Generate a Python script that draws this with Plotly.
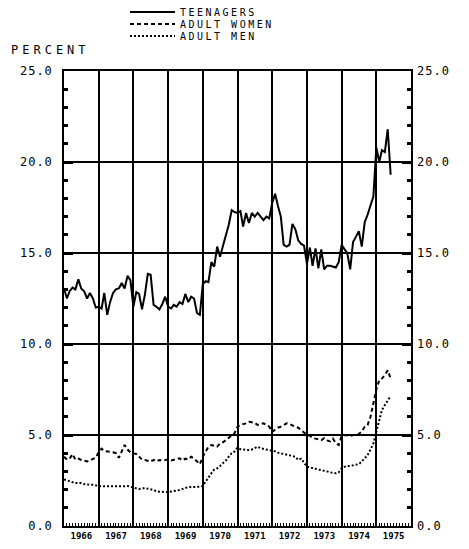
import pandas as pd
import plotly.graph_objects as go

# monthly unemployment rates, Jan 1966 - Jun 1975 (percent)
teenagers = [
    13.05, 12.5, 12.9, 13.1, 13.0, 13.55, 13.05, 12.9, 12.5, 12.8, 12.5, 12.0,
    12.05, 11.95, 12.8, 11.6, 12.3, 12.8, 13.0, 13.05, 13.35, 13.05, 13.75, 13.5,
    12.05, 12.85, 12.75, 11.9, 12.7, 13.85, 13.8, 12.15, 12.05, 11.9, 12.2, 12.6,
    12.05, 11.95, 12.15, 12.05, 12.3, 12.2, 12.75, 12.3, 12.6, 12.5, 11.7, 11.6,
    13.3, 13.45, 13.4, 14.5, 14.25, 15.35, 14.8, 15.35, 16.0, 16.55, 17.35, 17.25,
    17.2, 17.3, 16.45, 17.2, 16.65, 17.2, 17.0, 17.2, 17.0, 16.8, 17.0, 16.9,
    17.75, 18.25, 17.6, 17.0, 15.45, 15.35, 15.45, 16.6, 16.3, 15.7, 15.5, 15.4,
    14.4, 15.3, 14.3, 15.25, 14.15, 15.2, 14.1, 14.3, 14.3, 14.25, 14.2, 14.5,
    15.45, 15.2, 15.0, 14.1, 15.6, 15.9, 16.2, 15.35, 16.7, 17.1, 17.6, 18.1,
    20.8, 20.0, 20.65, 20.55, 21.8, 19.3,
]
adult_women = [
    3.8, 3.65, 3.7, 3.95, 3.65, 3.7, 3.63, 3.6, 3.55, 3.6, 3.66, 3.75,
    4.05, 4.25, 4.12, 4.08, 4.08, 4.05, 4.0, 3.75, 4.15, 4.45, 4.2, 4.05,
    3.99, 3.96, 3.81, 3.65, 3.63, 3.58, 3.54, 3.63, 3.55, 3.63, 3.6, 3.62,
    3.66, 3.6, 3.63, 3.65, 3.72, 3.6, 3.7, 3.66, 3.81, 3.7, 3.55, 3.4,
    3.81, 4.08, 4.36, 4.45, 4.4, 4.36, 4.54, 4.6, 4.72, 4.85, 4.95, 5.1,
    5.46, 5.55, 5.6, 5.64, 5.73, 5.7, 5.67, 5.55, 5.6, 5.64, 5.55, 5.46,
    5.18, 5.3, 5.4, 5.46, 5.55, 5.64, 5.6, 5.55, 5.46, 5.4, 5.27, 5.1,
    5.0, 4.95, 4.85, 4.8, 4.75, 4.72, 4.82, 4.7, 4.65, 4.8, 4.55, 4.45,
    4.95, 5.0, 4.98, 4.95, 5.0, 5.0, 5.05, 5.2, 5.45, 5.55, 6.0, 6.75,
    7.5, 8.02, 8.1, 8.3, 8.55, 8.1,
]
adult_men = [
    2.56, 2.5, 2.45, 2.4, 2.36, 2.36, 2.36, 2.3, 2.27, 2.27, 2.27, 2.22,
    2.2, 2.18, 2.18, 2.18, 2.16, 2.14, 2.14, 2.14, 2.14, 2.18, 2.2, 2.15,
    2.09, 2.05, 2.03, 2.05, 2.09, 2.05, 2.03, 1.98, 1.9, 1.89, 1.85, 1.83,
    1.86, 1.89, 1.9, 1.95, 1.98, 2.03, 2.1, 2.14, 2.14, 2.14, 2.14, 2.16,
    2.2, 2.45, 2.7, 2.9, 3.1, 3.17, 3.3, 3.44, 3.6, 3.81, 4.0, 4.1,
    4.3, 4.22, 4.2, 4.17, 4.17, 4.2, 4.27, 4.36, 4.27, 4.22, 4.2, 4.17,
    4.14, 4.1, 4.03, 4.0, 3.96, 3.93, 3.9, 3.85, 3.8, 3.63, 3.7, 3.45,
    3.26, 3.22, 3.2, 3.15, 3.1, 3.08, 3.04, 3.0, 2.95, 2.93, 2.9, 2.95,
    3.17, 3.25, 3.3, 3.3, 3.33, 3.35, 3.4, 3.54, 3.75, 3.9, 4.2, 4.54,
    5.18, 5.82, 6.37, 6.65, 6.92, 7.14,
]
months = pd.date_range("1966-01-01", periods=len(teenagers), freq="MS")

y_ticks = [0, 5, 10, 15, 20, 25]
y_labels = ["0.0", "5.0", "10.0", "15.0", "20.0", "25.0"]

MONO = "DejaVu Sans Mono"


def spaced(s, px):
    return f'<span style="letter-spacing:{px}px">{s}</span>'


fig = go.Figure()
fig.add_trace(go.Scatter(x=months, y=teenagers, mode="lines", name=spaced("TEENAGERS", 2.5),
                         legend="legend", line=dict(color="black", width=2)))
fig.add_trace(go.Scatter(x=months, y=adult_women, mode="lines", name=spaced("ADULT WOMEN", 2.5),
                         legend="legend2", line=dict(color="black", width=2, dash="4px,3px")))
fig.add_trace(go.Scatter(x=months, y=adult_men, mode="lines", name=spaced("ADULT MEN", 2.5),
                         legend="legend3", line=dict(color="black", width=2, dash="2px,2px")))
# invisible trace to carry the right-hand axis
fig.add_trace(go.Scatter(x=months[:1], y=teenagers[:1], yaxis="y2", mode="lines",
                         showlegend=False, hoverinfo="skip", line=dict(width=0)))

# one legend per row so rows can sit as tightly as in the original
legend_style = dict(xref="container", yref="container", x=117 / 469,
                    xanchor="left", yanchor="middle", bgcolor="rgba(0,0,0,0)",
                    font=dict(family=MONO, size=10), itemwidth=45)

# page body adds ~8px offset, so margins are pulled in by that much
fig.update_layout(
    width=469, height=549,
    margin=dict(l=56, r=66, t=63, b=31, autoexpand=False),
    paper_bgcolor="white", plot_bgcolor="white",
    font=dict(family=MONO, size=12, color="black"),
    showlegend=True,
    legend=dict(legend_style, y=1 - 4 / 549),
    legend2=dict(legend_style, y=1 - 16 / 549),
    legend3=dict(legend_style, y=1 - 28 / 549),
    xaxis=dict(
        type="date", range=["1966-01-01", "1976-01-01"], automargin=False,
        tick0="1966-01-01", dtick="M12", tickformat="%Y", ticklabelmode="period",
        tickangle=0,
        showgrid=True, gridcolor="black", gridwidth=1.5,
        showline=True, linecolor="black", linewidth=1.5, mirror=True,
        ticks="", tickfont=dict(family=MONO, size=9, weight="bold"),
        minor=dict(dtick="M1", ticks="inside", ticklen=3, tickcolor="black", showgrid=False),
        zeroline=False,
    ),
    yaxis=dict(
        range=[0, 25], automargin=False,
        tickvals=y_ticks, ticktext=[spaced(t, 1) for t in y_labels],
        showgrid=True, gridcolor="black", gridwidth=1.5,
        showline=True, linecolor="black", linewidth=1.5, mirror=True,
        ticks="inside", ticklen=9, tickwidth=3, tickcolor="black",
        tickfont=dict(family=MONO, size=12), ticklabelstandoff=7,
        minor=dict(dtick=1, ticks="inside", ticklen=4, tickcolor="black", showgrid=False),
        zeroline=False,
    ),
    yaxis2=dict(
        range=[0, 25], overlaying="y", side="right", matches="y", automargin=False,
        tickvals=y_ticks, ticktext=[spaced(t, 1) for t in y_labels],
        showgrid=False, ticks="inside", ticklen=9, tickwidth=3, tickcolor="black",
        tickfont=dict(family=MONO, size=12), ticklabelstandoff=5,
        minor=dict(dtick=1, ticks="inside", ticklen=4, tickcolor="black"),
        zeroline=False,
    ),
)

fig.add_annotation(text=spaced("PERCENT", 4), xref="paper", yref="paper",
                   x=-55 / 347, y=(526 - 50) / 455, xanchor="left", yanchor="middle",
                   showarrow=False, font=dict(family=MONO, size=12))

fig.write_html("out.html")
